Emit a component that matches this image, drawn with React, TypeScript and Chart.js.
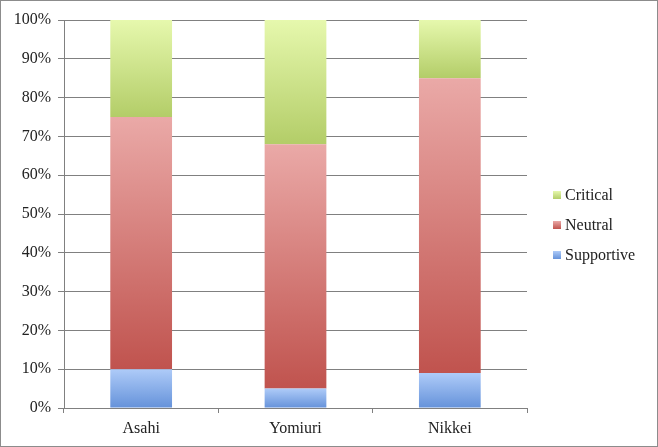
import { useEffect, useRef } from 'react';
import { Chart, registerables } from 'chart.js';

Chart.register(...registerables);

const categories = ['Asahi', 'Yomiuri', 'Nikkei'];
const supportive = [10, 5, 9];
const neutral = [65, 63, 76];
const critical = [25, 32, 15];
const yTicks = [0, 10, 20, 30, 40, 50, 60, 70, 80, 90, 100];

// light (top) -> dark (bottom) per series
const gradients: [string, string][] = [
  ['#aecbf8', '#6592da'],
  ['#eaa9a7', '#c0534e'],
  ['#e6f8ad', '#b3cd68'],
];

const FONT = '"Liberation Serif", "DejaVu Serif", serif';

export default function App() {
  const canvasRef = useRef<HTMLCanvasElement>(null);
  const chartRef = useRef<Chart | null>(null);

  useEffect(() => {
    if (!canvasRef.current) return;
    if (chartRef.current) chartRef.current.destroy();

    const series = [supportive, neutral, critical];

    const segmentFill = (c: any) => {
      const chart = c.chart;
      const y = chart.scales?.y;
      if (!y || !chart.chartArea || c.dataIndex === undefined) return gradients[c.datasetIndex][1];
      let start = 0;
      for (let i = 0; i < c.datasetIndex; i++) start += series[i][c.dataIndex];
      const end = start + series[c.datasetIndex][c.dataIndex];
      const top = y.getPixelForValue(end);
      const bottom = y.getPixelForValue(start);
      const g = chart.ctx.createLinearGradient(0, top, 0, bottom);
      g.addColorStop(0, gradients[c.datasetIndex][0]);
      g.addColorStop(1, gradients[c.datasetIndex][1]);
      return g;
    };

    const legendPlugin = {
      id: 'sideLegend',
      afterDraw(chart: any) {
        const ctx = chart.ctx;
        const items = chart.data.datasets.map((d: any, i: number) => ({ label: d.label, i })).reverse();
        const x0 = 552;
        const yStart = 194;
        const step = 30;
        ctx.save();
        ctx.font = `16px ${FONT}`;
        ctx.textBaseline = 'middle';
        items.forEach((it: any, k: number) => {
          const cy = yStart + k * step;
          const g = ctx.createLinearGradient(0, cy - 4, 0, cy + 4);
          g.addColorStop(0, gradients[it.i][0]);
          g.addColorStop(1, gradients[it.i][1]);
          ctx.fillStyle = g;
          ctx.fillRect(x0, cy - 4, 8, 8);
          ctx.fillStyle = '#222';
          ctx.fillText(it.label, x0 + 12, cy + 1);
        });
        ctx.restore();
      },
    };

    chartRef.current = new Chart(canvasRef.current, {
      type: 'bar',
      data: {
        labels: categories,
        datasets: [
          { label: 'Supportive', data: supportive, backgroundColor: segmentFill, barPercentage: 0.4, categoryPercentage: 1 },
          { label: 'Neutral', data: neutral, backgroundColor: segmentFill, barPercentage: 0.4, categoryPercentage: 1 },
          { label: 'Critical', data: critical, backgroundColor: segmentFill, barPercentage: 0.4, categoryPercentage: 1 },
        ],
      },
      plugins: [legendPlugin],
      options: {
        responsive: true,
        maintainAspectRatio: false,
        animation: false,
        layout: { padding: { top: 19, right: 130, left: 0, bottom: 0 } },
        plugins: {
          legend: { display: false },
          tooltip: { enabled: false },
        },
        scales: {
          x: {
            stacked: true,
            grid: { offset: true, drawOnChartArea: false, color: '#808080', tickLength: 5 },
            border: { color: '#808080' },
            ticks: { color: '#222', font: { family: FONT, size: 16 }, padding: 6 },
            afterFit: (s: any) => { s.height = 38; },
          },
          y: {
            stacked: true,
            min: 0,
            max: 100,
            afterBuildTicks: (s: any) => { s.ticks = yTicks.map((v) => ({ value: v })); },
            grid: { color: '#808080', tickLength: 6 },
            border: { color: '#808080' },
            ticks: {
              color: '#222',
              font: { family: FONT, size: 16 },
              padding: 7,
              callback: (v: any) => v + '%',
            },
            afterFit: (s: any) => { s.width = 63; },
          },
        },
      },
    });

    return () => {
      if (chartRef.current) chartRef.current.destroy();
      chartRef.current = null;
    };
  }, []);

  return (
    <div
      style={{
        position: 'absolute',
        left: 0,
        top: 0,
        width: 658,
        height: 447,
        boxSizing: 'border-box',
        border: '1px solid #8c8c8c',
        background: '#fff',
      }}
    >
      <canvas ref={canvasRef} />
    </div>
  );
}
